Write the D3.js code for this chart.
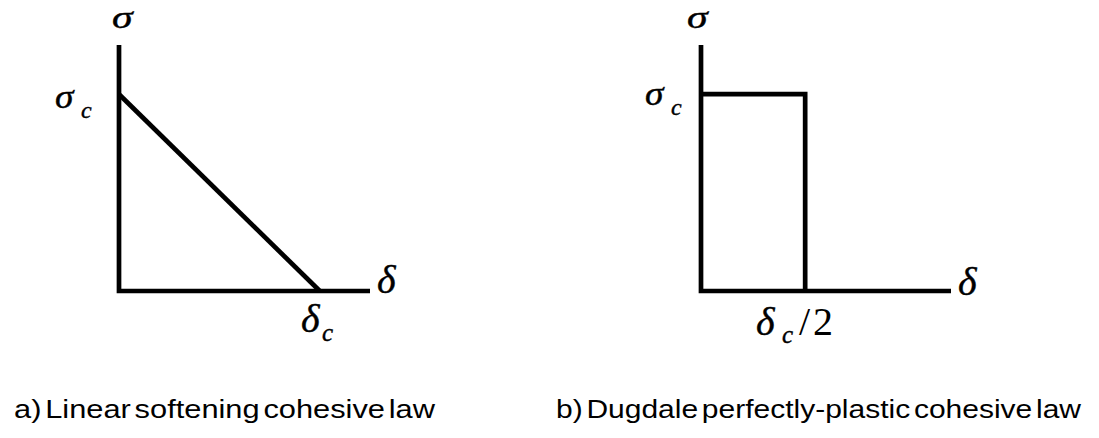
<!DOCTYPE html>
<html>
<head>
<meta charset="utf-8">
<script src="https://cdn.jsdelivr.net/npm/d3@7"></script>
<style>
  html, body { margin: 0; padding: 0; background: #fff; }
  svg { display: block; }
  .sym { font-family: "Liberation Serif", "Times New Roman", serif; font-style: italic; fill: #000; stroke: #000; stroke-width: 0.4; }
  .num { font-family: "Liberation Serif", "Times New Roman", serif; fill: #000; }
  .cap { font-family: "Liberation Sans", Arial, sans-serif; fill: #000; }
</style>
</head>
<body>
<svg id="chart" width="1099" height="438"></svg>
<script>
// Normalised traction–separation laws (sigma / sigma_c versus delta / delta_c)
const linearDelta = [0, 1];
const linearSigma = [1, 0];

const dugdaleDelta = [0, 0.5, 0.5];
const dugdaleSigma = [1, 1, 0];

const captions = [
  "a) Linear softening cohesive law",
  "b) Dugdale perfectly-plastic cohesive law"
];

const svg = d3.select("#chart");
const strokeW = 4.7;

// Panel scales
const yScale = d3.scaleLinear().domain([0, 1.25]).range([291, 45]);
const xLeft = d3.scaleLinear().domain([0, 1.25]).range([119, 370]);
const xRight = d3.scaleLinear().domain([0, 1.2]).range([701, 951]);

function drawAxes(x) {
  const [x0, x1] = x.domain();
  const [y0, y1] = yScale.domain();
  svg.append("path")
    .attr("d", `M${x(x0)},${yScale(y1)} V${yScale(y0)} H${x(x1)}`)
    .attr("fill", "none")
    .attr("stroke", "#000")
    .attr("stroke-width", strokeW)
    .attr("stroke-linejoin", "miter");
}

function drawLaw(x, ds, ss) {
  const line = d3.line().x((d, i) => x(ds[i])).y(d => yScale(d));
  svg.append("path")
    .attr("d", line(ss))
    .attr("fill", "none")
    .attr("stroke", "#000")
    .attr("stroke-width", strokeW)
    .attr("stroke-linejoin", "miter");
}

drawAxes(xLeft);
drawLaw(xLeft, linearDelta, linearSigma);
drawAxes(xRight);
drawLaw(xRight, dugdaleDelta, dugdaleSigma);

// Axis symbols; sx widens the glyph horizontally about its origin
function sym(x, y, txt, size, sx = 1, cls = "sym") {
  return svg.append("text").attr("class", cls)
    .attr("transform", `translate(${x},${y}) scale(${sx},1)`)
    .attr("font-size", size).text(txt);
}

// left panel
sym(112, 28, "σ", 31, 1.35);
sym(55, 108, "σ", 34, 1.1);
sym(81, 118, "c", 24);
sym(377, 293, "δ", 40);
sym(301, 332, "δ", 40);
sym(322, 341, "c", 25);

// right panel
sym(687, 28, "σ", 31, 1.35);
sym(645, 105, "σ", 34, 1.1);
sym(671, 115, "c", 24);
sym(958, 295, "δ", 40);
sym(756, 335, "δ", 40);
sym(782, 343, "c", 25);
sym(799, 335, "/", 40, 1, "num");
sym(813, 335, "2", 40, 1, "num");

// Captions
svg.append("text").attr("class", "cap")
  .attr("x", 14).attr("y", 418).attr("font-size", 26)
  .attr("textLength", 421).attr("lengthAdjust", "spacingAndGlyphs")
  .attr("word-spacing", -4)
  .text(captions[0]);
svg.append("text").attr("class", "cap")
  .attr("x", 556).attr("y", 418).attr("font-size", 26)
  .attr("textLength", 525).attr("lengthAdjust", "spacingAndGlyphs")
  .attr("word-spacing", -4)
  .text(captions[1]);
</script>
</body>
</html>
